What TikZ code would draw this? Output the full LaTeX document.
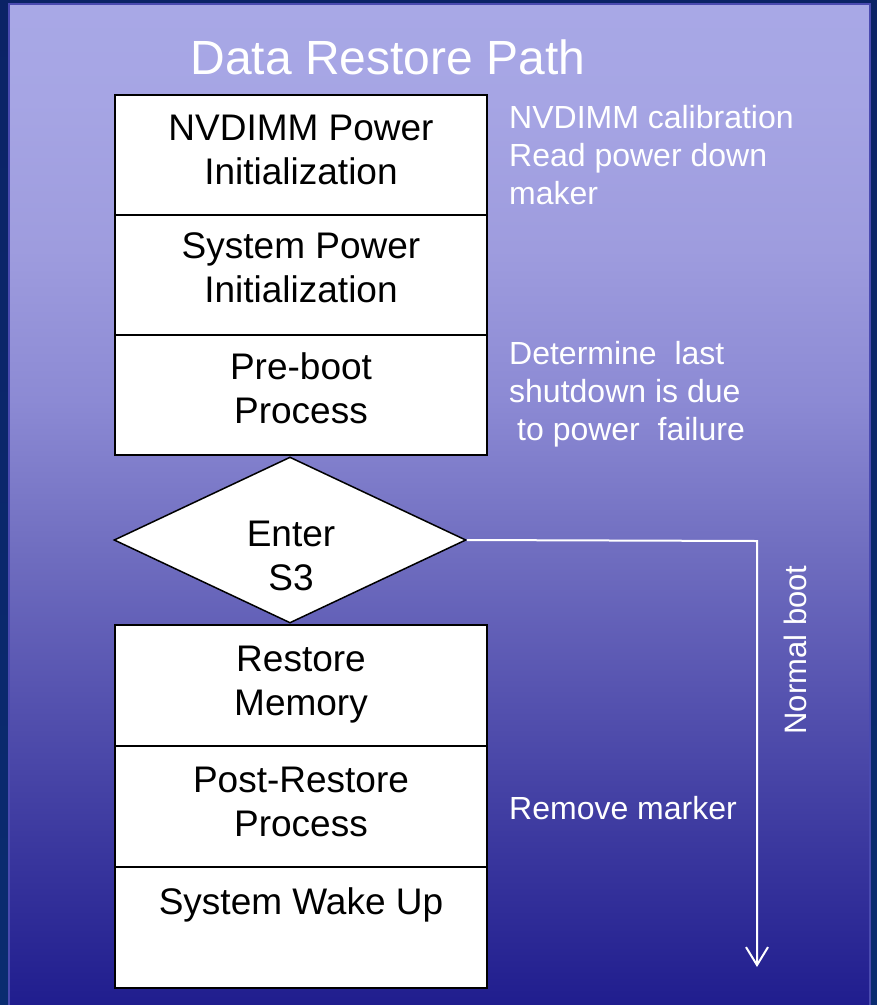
\documentclass[tikz,border=0pt]{standalone}
\usepackage{fontspec}
\setmainfont{Liberation Sans}
\usetikzlibrary{shapes.geometric,arrows.meta}

\definecolor{frameblue}{HTML}{0B2366}
\definecolor{frameblueB}{HTML}{0A2C70}
\definecolor{panelrim}{HTML}{4A4AB0}
\definecolor{pc0}{HTML}{201D8E}
\definecolor{pc1}{HTML}{3A379E}
\definecolor{pc2}{HTML}{5552AF}
\definecolor{pc3}{HTML}{706EC0}
\definecolor{pc4}{HTML}{8C8AD4}
\definecolor{pc5}{HTML}{9E9CDE}
\definecolor{pc6}{HTML}{A6A5E4}
\definecolor{pc7}{HTML}{A8A8E6}

% slide backdrop: lavender at the top fading into deep blue
\pgfdeclareverticalshading{panelshade}{100bp}{%
  color(0bp)=(pc0); color(25bp)=(pc0); color(32.75bp)=(pc1);
  color(40.25bp)=(pc2); color(47.75bp)=(pc3); color(55.25bp)=(pc4);
  color(62.75bp)=(pc5); color(70.25bp)=(pc6); color(75bp)=(pc7);
  color(100bp)=(pc7)}

\tikzset{
  stage/.style={draw=black, fill=white, line width=1.5pt, rectangle,
    minimum width=372pt, inner sep=0pt},
  decision/.style={draw=black, fill=white, line width=1.5pt, diamond,
    minimum width=352pt, minimum height=166pt, inner sep=0pt},
  stagetext/.style={align=center, inner sep=0pt, text=black,
    font=\fontsize{37}{44}\selectfont},
  note/.style={align=left, inner sep=0pt, text=white, anchor=north west,
    font=\fontsize{32}{38}\selectfont},
  heading/.style={inner sep=0pt, text=white, anchor=base,
    font=\fontsize{48}{56}\selectfont},
  flow/.style={draw=white, line width=2pt},
}

\begin{document}
\begin{tikzpicture}[x=1pt, y=-1pt]
  \useasboundingbox (0,0) rectangle (877,1005);

  % frame and shaded panel
  \shade[top color=frameblue, bottom color=frameblueB] (0,0) rectangle (877,1005);
  \shade[shading=panelshade] (9,4) rectangle (870,1005);
  \draw[panelrim, line width=1.5pt] (9,1005) -- (9,4) -- (870,4) -- (870,1005);

  % title
  \node[heading] (title) at (388,74) {Data Restore Path};

  % upper stages
  \node[stage, minimum height=120pt] (pwrinit) at (301,155) {};
  \node[stage, minimum height=120pt] (sysinit) at (301,275) {};
  \node[stage, minimum height=120pt] (preboot) at (301,395) {};

  \node[stagetext] (pwrinitT) at (301,150) {NVDIMM Power\\Initialization};
  \node[stagetext] (sysinitT) at (301,268) {System Power\\Initialization};
  \node[stagetext] (prebootT) at (301,388) {Pre-boot\\Process};

  % decision
  \node[decision] (s3) at (290,540) {};
  \node[stagetext] (s3T) at (291,556) {Enter\\S3};

  % lower stages
  \node[stage, minimum height=121pt] (restore) at (301,685.5) {};
  \node[stage, minimum height=121pt] (postrest) at (301,806.5) {};
  \node[stage, minimum height=121pt] (wake) at (301,927.5) {};

  \node[stagetext] (restoreT) at (301,685) {Restore\\Memory};
  \node[stagetext] (postrestT) at (301,802) {Post-Restore\\Process};
  \node[stagetext] (wakeT) at (301,905) {System Wake Up};

  % side notes
  \node[note] (note1) at (509,105.5) {NVDIMM calibration\\Read power down\\maker};
  \node[note] (note2) at (509,341.5) {Determine\ \ last\\shutdown is due\\\hspace*{8pt}to power\ \ failure};
  \node[note] (note3) at (509,796.5) {Remove marker};

  % normal boot branch
  \coordinate (turn) at (757,541);
  \coordinate (bootend) at (757,967);
  \draw[flow, -{Straight Barb[length=18pt,width=22pt]}] (s3.east) -- (turn) -- (bootend);
  \node[inner sep=0pt, text=white, rotate=90, font=\fontsize{31}{37}\selectfont]
    (bootlbl) at (795,650) {Normal boot};
\end{tikzpicture}
\end{document}
